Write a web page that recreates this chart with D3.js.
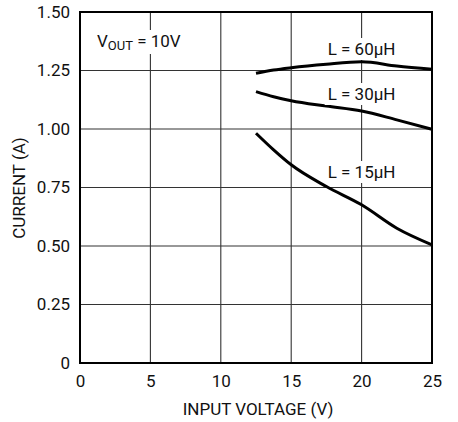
<!DOCTYPE html>
<html>
<head>
<meta charset="utf-8">
<script src="https://cdn.jsdelivr.net/npm/d3@7"></script>
<style>
  html, body { margin: 0; padding: 0; background: #fff; }
  svg { display: block; }
  text { font-family: Roboto, "Liberation Sans", Arial, sans-serif; fill: #111; }
</style>
</head>
<body>
<svg id="chart" width="458" height="422"></svg>
<script>
// ---- data ----
const xTicks = [0, 5, 10, 15, 20, 25];
const yTicks = [0, 0.25, 0.5, 0.75, 1.0, 1.25, 1.5];
const yTickLabels = ["0", "0.25", "0.50", "0.75", "1.00", "1.25", "1.50"];
const vin = [12.5, 13.75, 15, 17.5, 20, 22.5, 25];
const i60 = [1.238, 1.252, 1.262, 1.277, 1.287, 1.269, 1.255];
const i30 = [1.160, 1.138, 1.121, 1.098, 1.077, 1.039, 0.999];
const i15 = [0.982, 0.911, 0.847, 0.754, 0.676, 0.576, 0.505];
const seriesNames = ["L = 60\u00B5H", "L = 30\u00B5H", "L = 15\u00B5H"];
const xTitle = "INPUT VOLTAGE (V)";
const yTitle = "CURRENT (A)";

// ---- layout ----
const L = 80, R = 432, T = 12, B = 363;
const FS = 17;
const svg = d3.select("#chart");
const x = d3.scaleLinear().domain([0, 25]).range([L, R]);
const y = d3.scaleLinear().domain([0, 1.5]).range([B, T]);

// grid
const grid = svg.append("g").attr("stroke", "#333").attr("stroke-width", 1.1);
grid.selectAll("line.v").data(xTicks.slice(1, -1)).join("line")
  .attr("x1", d => x(d)).attr("x2", d => x(d)).attr("y1", T).attr("y2", B);
grid.selectAll("line.h").data(yTicks.slice(1, -1)).join("line")
  .attr("y1", d => y(d)).attr("y2", d => y(d)).attr("x1", L).attr("x2", R);

// labels with white background (hide grid behind)
function boxedText(g) {
  const bb = g.node().getBBox();
  g.insert("rect", ":first-child")
    .attr("x", bb.x - 3).attr("y", bb.y - 1)
    .attr("width", bb.width + 6).attr("height", bb.height + 2)
    .attr("fill", "#fff");
}

// VOUT label
const vg = svg.append("g");
const vt = vg.append("text").attr("x", 97).attr("y", 47).attr("font-size", FS);
vt.append("tspan").text("V");
vt.append("tspan").attr("font-size", 13).attr("dy", 3).text("OUT");
vt.append("tspan").attr("dy", -3).text(" = 10V");
boxedText(vg);

// curves
const line = d3.line().x(d => x(d[0])).y(d => y(d[1])).curve(d3.curveMonotoneX);
const series = [i60, i30, i15];
svg.append("g").selectAll("path").data(series).join("path")
  .attr("d", s => line(vin.map((v, k) => [v, s[k]])))
  .attr("fill", "none").attr("stroke", "#000").attr("stroke-width", 3);

// series labels
const labelPos = [[20, 55], [20, 100], [20, 178]];
seriesNames.forEach((n, k) => {
  const g = svg.append("g");
  g.append("text").attr("x", x(labelPos[k][0])).attr("y", labelPos[k][1])
    .attr("text-anchor", "middle").attr("font-size", FS).text(n);
  boxedText(g);
});

// frame
svg.append("rect").attr("x", L).attr("y", T).attr("width", R - L).attr("height", B - T)
  .attr("fill", "none").attr("stroke", "#000").attr("stroke-width", 2);

// axes tick labels
const xAxis = d3.axisBottom(x).tickValues(xTicks).tickSize(0).tickPadding(12).tickFormat(d3.format("d"));
const gx = svg.append("g").attr("transform", `translate(0,${B})`).call(xAxis);
gx.select(".domain").remove();
gx.selectAll("text").attr("font-size", FS).attr("font-family", null).attr("fill", "#111");

const yAxis = d3.axisLeft(y).tickValues(yTicks).tickSize(0).tickPadding(10)
  .tickFormat((d, k) => yTickLabels[k]);
const gy = svg.append("g").attr("transform", `translate(${L},0)`).call(yAxis);
gy.select(".domain").remove();
gy.selectAll("text").attr("font-size", FS).attr("font-family", null).attr("fill", "#111");

// titles
svg.append("text").attr("x", (L + R) / 2 + 2).attr("y", 415).attr("text-anchor", "middle")
  .attr("font-size", FS).text(xTitle);
svg.append("text").attr("transform", `translate(25,188) rotate(-90)`)
  .attr("text-anchor", "middle").attr("font-size", FS).text(yTitle);
</script>
</body>
</html>
